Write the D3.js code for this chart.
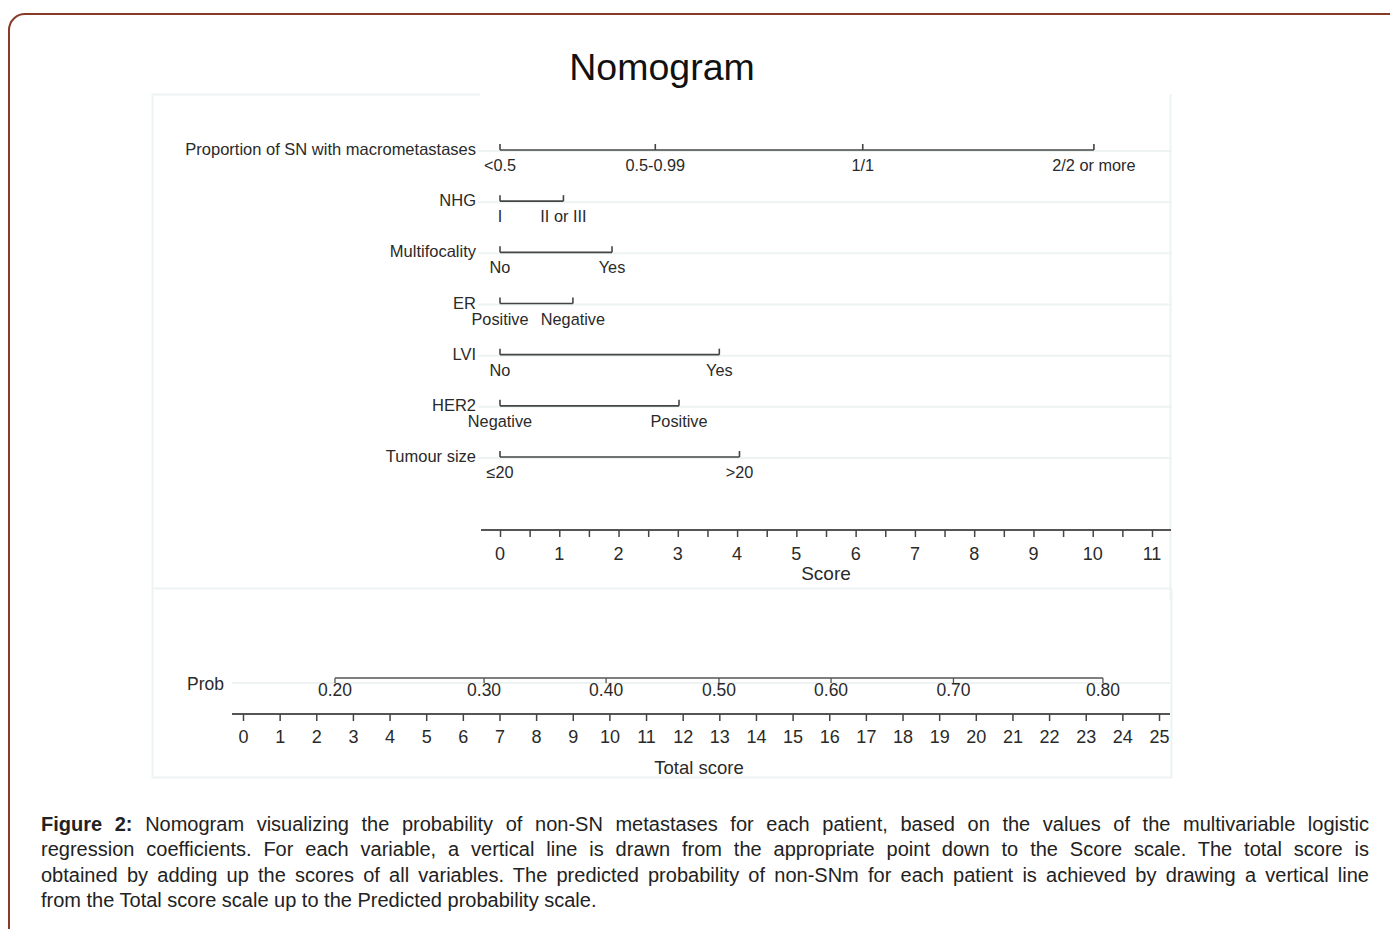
<!DOCTYPE html>
<html>
<head>
<meta charset="utf-8">
<script src="https://cdn.jsdelivr.net/npm/d3@7"></script>
<style>
  html, body { margin: 0; padding: 0; background: #fff; }
  body { width: 1390px; height: 929px; position: relative; overflow: hidden; font-family: "Liberation Sans", Arial, sans-serif; }
  #chart { position: absolute; left: 0; top: 0; }
  #caption { position: absolute; left: 41px; top: 812px; width: 1328px; font-size: 20px; line-height: 25.3px; color: #222; }
  #caption span { display: block; text-align: justify; text-align-last: justify; }
  #caption span.last { text-align-last: left; }
</style>
</head>
<body>
<svg id="chart" width="1390" height="929"></svg>
<div id="caption"></div>
<script>
// variables and their level points (score scale)
const variables = ["Proportion of SN with macrometastases", "NHG", "Multifocality", "ER", "LVI", "HER2", "Tumour size"];
const levelLabels = [
  ["<0.5", "0.5-0.99", "1/1", "2/2 or more"],
  ["I", "II or III"],
  ["No", "Yes"],
  ["Positive", "Negative"],
  ["No", "Yes"],
  ["Negative", "Positive"],
  ["\u226420", ">20"]
];
const levelPoints = [
  [0, 2.62, 6.12, 10.02],
  [0, 1.07],
  [0, 1.89],
  [0, 1.23],
  [0, 3.7],
  [0, 3.02],
  [0, 4.04]
];

const scoreTicks = [0, 0.5, 1, 1.5, 2, 2.5, 3, 3.5, 4, 4.5, 5, 5.5, 6, 6.5, 7, 7.5, 8, 8.5, 9, 9.5, 10, 10.5, 11];
const scoreLabels = [0, 1, 2, 3, 4, 5, 6, 7, 8, 9, 10, 11];
const totalTicks = [0, 1, 2, 3, 4, 5, 6, 7, 8, 9, 10, 11, 12, 13, 14, 15, 16, 17, 18, 19, 20, 21, 22, 23, 24, 25];
// probability ticks and where they sit on the total score scale
const probLabels = ["0.20", "0.30", "0.40", "0.50", "0.60", "0.70", "0.80"];
const probAtTotal = [2.51, 6.58, 9.91, 12.99, 16.05, 19.39, 23.47];

const captionLines = [
  "<b>Figure 2:</b> Nomogram visualizing the probability of non-SN metastases for each patient, based on the values of the multivariable logistic",
  "regression coefficients. For each variable, a vertical line is drawn from the appropriate point down to the Score scale. The total score is",
  "obtained by adding up the scores of all variables. The predicted probability of non-SNm for each patient is achieved by drawing a vertical line",
  "from the Total score scale up to the Predicted probability scale."
];

const ink = "#2a2a2a";
const faint = "#edf3f3";
const svg = d3.select("#chart");

// card border (rounded top-left)
svg.append("rect")
  .attr("x", 9).attr("y", 14)
  .attr("width", 1500).attr("height", 1000)
  .attr("rx", 16)
  .attr("fill", "none")
  .attr("stroke", "#8a3b27")
  .attr("stroke-width", 2);

// panel outlines
svg.append("path")
  .attr("d", "M480,94.5 H152.5 V777.5 H1171.5 V588.5 M152.5,588.5 H1170.5 M1170.5,94 V600")
  .attr("fill", "none")
  .attr("stroke", faint)
  .attr("stroke-width", 2);

svg.append("text")
  .attr("x", 662).attr("y", 80)
  .attr("text-anchor", "middle")
  .attr("font-size", 37.5)
  .attr("fill", "#111")
  .text("Nomogram");

const scoreX = d3.scaleLinear().domain([0, 11]).range([500, 1152]);
const totalX = d3.scaleLinear().domain([0, 25]).range([243, 1159]);
const rowY = d3.scalePoint().domain(variables).range([150, 457]);

const rows = svg.append("g").selectAll("g")
  .data(variables)
  .join("g")
  .attr("transform", d => `translate(0,${rowY(d)})`);

rows.append("line")
  .attr("x1", 478).attr("x2", 1172)
  .attr("y1", 1).attr("y2", 1)
  .attr("stroke", faint).attr("stroke-width", 2);

rows.append("text")
  .attr("x", 476).attr("y", 5)
  .attr("text-anchor", "end")
  .attr("font-size", 16.5)
  .attr("fill", ink)
  .text(d => d);

rows.append("line")
  .attr("x1", (d, i) => scoreX(0))
  .attr("x2", (d, i) => scoreX(d3.max(levelPoints[i])))
  .attr("stroke", "#444").attr("stroke-width", 1.6);

rows.each(function (d, i) {
  const g = d3.select(this);
  const pts = levelPoints[i].map((p, j) => ({ p, label: levelLabels[i][j] }));
  g.selectAll("line.tk").data(pts).join("line")
    .attr("class", "tk")
    .attr("x1", e => scoreX(e.p)).attr("x2", e => scoreX(e.p))
    .attr("y1", 0).attr("y2", -6)
    .attr("stroke", "#444").attr("stroke-width", 1.6);
  g.selectAll("text.lv").data(pts).join("text")
    .attr("class", "lv")
    .attr("x", e => scoreX(e.p)).attr("y", 21)
    .attr("text-anchor", "middle")
    .attr("font-size", 16.3)
    .attr("fill", ink)
    .text(e => e.label);
});

// Score axis
const scoreAxis = svg.append("g").attr("transform", "translate(0,530)");
scoreAxis.append("line")
  .attr("x1", 481).attr("x2", 1171)
  .attr("stroke", "#555").attr("stroke-width", 2);
scoreAxis.call(d3.axisBottom(scoreX).tickValues(scoreTicks).tickSize(7).tickSizeOuter(0).tickFormat(""))
  .call(g => g.select(".domain").remove())
  .call(g => g.selectAll(".tick line").attr("stroke", "#444").attr("stroke-width", 1.5));
scoreAxis.selectAll("text.lbl").data(scoreLabels).join("text")
  .attr("class", "lbl")
  .attr("x", d => scoreX(d)).attr("y", 30)
  .attr("text-anchor", "middle")
  .attr("font-size", 18)
  .attr("fill", ink)
  .text(d => d);
svg.append("text")
  .attr("x", 826).attr("y", 580)
  .attr("text-anchor", "middle")
  .attr("font-size", 19)
  .attr("fill", ink)
  .text("Score");

// Prob axis
svg.append("line")
  .attr("x1", 232).attr("x2", 1170)
  .attr("y1", 683).attr("y2", 683)
  .attr("stroke", faint).attr("stroke-width", 2);
svg.append("text")
  .attr("x", 187).attr("y", 690)
  .attr("font-size", 17.5)
  .attr("fill", ink)
  .text("Prob");
const probAxis = svg.append("g").attr("transform", "translate(0,678)");
probAxis.append("line")
  .attr("x1", totalX(probAtTotal[0])).attr("x2", totalX(probAtTotal[probAtTotal.length - 1]))
  .attr("stroke", "#555").attr("stroke-width", 1.6);
probAxis.selectAll("line.tk").data(probAtTotal).join("line")
  .attr("class", "tk")
  .attr("x1", d => totalX(d)).attr("x2", d => totalX(d))
  .attr("y1", 0).attr("y2", 5)
  .attr("stroke", "#555").attr("stroke-width", 1.3);
probAxis.selectAll("text").data(probLabels).join("text")
  .attr("x", (d, i) => totalX(probAtTotal[i])).attr("y", 18)
  .attr("text-anchor", "middle")
  .attr("font-size", 17.5)
  .attr("fill", ink)
  .text(d => d);

// Total score axis
const totalAxis = svg.append("g").attr("transform", "translate(0,714)");
totalAxis.append("line")
  .attr("x1", 232).attr("x2", 1170)
  .attr("stroke", "#555").attr("stroke-width", 2);
totalAxis.call(d3.axisBottom(totalX).tickValues(totalTicks).tickSize(7).tickSizeOuter(0).tickPadding(9))
  .call(g => g.select(".domain").remove())
  .call(g => g.selectAll(".tick line").attr("stroke", "#444").attr("stroke-width", 1.5))
  .call(g => g.selectAll(".tick text")
    .attr("font-family", "Liberation Sans, Arial, sans-serif")
    .attr("font-size", 18)
    .attr("fill", ink));
svg.append("text")
  .attr("x", 699).attr("y", 774)
  .attr("text-anchor", "middle")
  .attr("font-size", 18.5)
  .attr("fill", ink)
  .text("Total score");

d3.select("#caption").selectAll("span")
  .data(captionLines)
  .join("span")
  .attr("class", (d, i) => i === captionLines.length - 1 ? "last" : null)
  .html(d => d);
</script>
</body>
</html>
